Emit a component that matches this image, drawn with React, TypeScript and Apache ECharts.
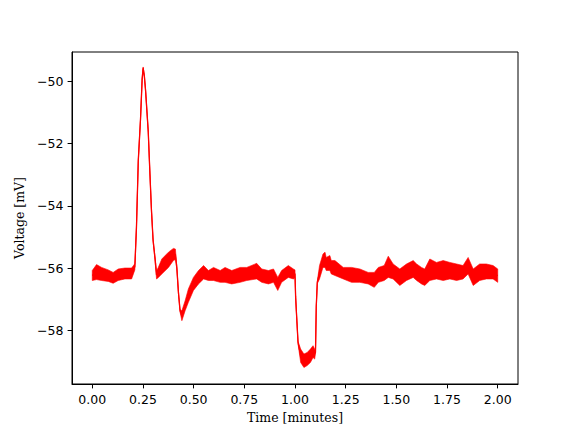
import React, { useEffect, useRef } from "react";
import * as echarts from "echarts";

// Time samples (minutes) with the upper and lower edge of the noisy trace (mV)
const timeMin = [
  0.0, 0.021, 0.046, 0.079, 0.103, 0.128, 0.161, 0.194, 0.21, 0.218, 0.227, 0.238, 0.246, 0.251, 0.257,
  0.263, 0.276, 0.284, 0.292, 0.3, 0.309, 0.317, 0.325, 0.343, 0.376, 0.4, 0.41, 0.417, 0.425, 0.433,
  0.442, 0.458, 0.474, 0.499, 0.524, 0.549, 0.573, 0.598, 0.631, 0.655, 0.688, 0.729, 0.762, 0.811,
  0.836, 0.869, 0.894, 0.915, 0.934, 0.967, 0.992, 1.0, 1.003, 1.007, 1.015, 1.028, 1.044, 1.06, 1.076,
  1.089, 1.097, 1.101, 1.105, 1.11, 1.121, 1.138, 1.148, 1.154, 1.172, 1.179, 1.197, 1.238, 1.279,
  1.32, 1.361, 1.391, 1.411, 1.44, 1.46, 1.484, 1.517, 1.55, 1.583, 1.6, 1.624, 1.64, 1.665, 1.698,
  1.731, 1.764, 1.797, 1.829, 1.854, 1.879, 1.911, 1.944, 1.977, 2.0,
];
const upperMv = [
  -56.07, -55.88, -55.97, -56.05, -56.13, -56.02, -55.99, -55.99, -55.85, -54.64, -52.5, -51.17, -49.89,
  -49.54, -49.8, -50.26, -51.56, -52.86, -54.1, -55.06, -55.6, -56.08, -55.98, -55.7, -55.48, -55.36,
  -55.38, -55.93, -56.73, -57.32, -57.36, -57.04, -56.66, -56.29, -56.07, -55.91, -56.07, -55.97, -56.07,
  -55.97, -56.07, -55.97, -55.97, -55.84, -56.02, -56.07, -56.02, -56.29, -56.07, -55.91, -56.02, -56.05,
  -56.86, -57.37, -58.34, -58.59, -58.75, -58.7, -58.59, -58.48, -58.59, -58.66, -57.16, -56.41, -55.91,
  -55.54, -55.48, -55.65, -55.59, -55.75, -55.75, -55.97, -55.97, -56.02, -56.13, -56.13, -55.97, -55.91,
  -55.61, -55.86, -56.02, -55.86, -55.75, -55.86, -55.97, -56.02, -55.7, -55.81, -55.75, -55.81, -55.86,
  -55.91, -55.65, -56.02, -55.86, -55.86, -55.91, -56.02,
];
const lowerMv = [
  -56.39, -56.36, -56.39, -56.42, -56.48, -56.39, -56.34, -56.34, -56.05, -54.72, -52.58, -51.25, -49.97,
  -49.6, -49.88, -50.34, -51.64, -52.94, -54.18, -55.14, -55.7, -56.34, -56.3, -56.18, -55.97, -55.75,
  -55.72, -56.01, -56.81, -57.4, -57.68, -57.36, -57.09, -56.71, -56.5, -56.34, -56.39, -56.39, -56.45,
  -56.45, -56.5, -56.45, -56.39, -56.34, -56.45, -56.5, -56.45, -56.71, -56.45, -56.29, -56.34, -56.3,
  -56.94, -57.45, -58.42, -59.02, -59.18, -59.12, -59.02, -58.86, -58.91, -58.74, -57.24, -56.49, -56.34,
  -55.97, -55.97, -56.07, -56.07, -56.18, -56.23, -56.34, -56.45, -56.45, -56.5, -56.61, -56.45, -56.39,
  -56.29, -56.34, -56.55, -56.39, -56.29, -56.39, -56.5, -56.55, -56.39, -56.34, -56.39, -56.34, -56.39,
  -56.34, -56.18, -56.55, -56.39, -56.34, -56.34, -56.45,
];

const xTicks = [0, 0.25, 0.5, 0.75, 1.0, 1.25, 1.5, 1.75, 2.0];
const yTicks = [-58, -56, -54, -52, -50];

const tickFont = { fontFamily: "DejaVu Sans", fontSize: 12.5, color: "#000" };
const nameFont = { fontFamily: "DejaVu Serif", fontSize: 12.5, color: "#000" };

export default function App() {
  const ref = useRef<HTMLDivElement>(null);
  useEffect(() => {
    const chart = echarts.init(ref.current!, null, { renderer: "svg" });
    const mid = timeMin.map((t, i) => [t, (upperMv[i] + lowerMv[i]) / 2]);
    chart.setOption({
      animation: false,
      grid: {
        left: 72,
        top: 52,
        width: 446,
        height: 332,
        show: true,
        borderColor: "#000",
        borderWidth: 1,
        backgroundColor: "transparent",
      },
      xAxis: {
        type: "value",
        min: -0.1,
        max: 2.1,
        name: "Time [minutes]",
        nameLocation: "middle",
        nameGap: 27,
        nameTextStyle: nameFont,
        axisLine: { show: true, onZero: false, lineStyle: { color: "#000", width: 1 } },
        axisTick: { show: true, length: 4.4, customValues: xTicks, lineStyle: { color: "#000" } },
        axisLabel: {
          ...tickFont,
          margin: 8.5,
          customValues: xTicks,
          formatter: (v: number) => v.toFixed(2),
        },
        splitLine: { show: false },
      },
      yAxis: {
        type: "value",
        min: -59.71,
        max: -49.06,
        name: "Voltage [mV]",
        nameLocation: "middle",
        nameGap: 41,
        nameTextStyle: nameFont,
        axisLine: { show: true, onZero: false, lineStyle: { color: "#000", width: 1 } },
        axisTick: { show: true, length: 4.4, customValues: yTicks, lineStyle: { color: "#000" } },
        axisLabel: {
          ...tickFont,
          margin: 8.5,
          customValues: yTicks,
          formatter: (v: number) => (v < 0 ? "\u2212" : "") + Math.abs(v),
        },
        splitLine: { show: false },
      },
      series: [
        {
          type: "custom",
          clip: false,
          data: [[0, 0]],
          renderItem: (params: any, api: any) => {
            if (params.dataIndex !== 0) return null;
            const pts: number[][] = [];
            for (let i = 0; i < timeMin.length; i++) pts.push(api.coord([timeMin[i], upperMv[i]]));
            for (let i = timeMin.length - 1; i >= 0; i--) pts.push(api.coord([timeMin[i], lowerMv[i]]));
            return {
              type: "polygon",
              shape: { points: pts },
              style: { fill: "#ff0000", stroke: "#ff0000", lineWidth: 0.6 },
            };
          },
          z: 2,
        },
        {
          type: "line",
          data: mid,
          symbol: "none",
          lineStyle: { color: "#ff0000", width: 1.3 },
          z: 3,
        },
      ],
    });
    return () => chart.dispose();
  }, []);
  return (
    <div
      ref={ref}
      style={{ position: "fixed", left: 0, top: 0, width: 576, height: 432, background: "#fff" }}
    />
  );
}
